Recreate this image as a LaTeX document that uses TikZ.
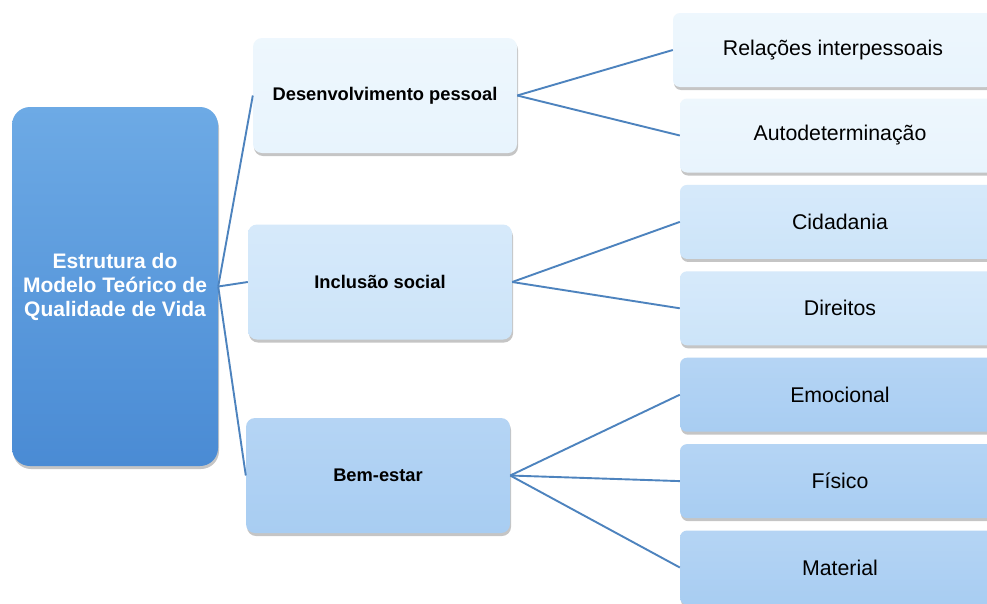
\documentclass[tikz,border=0pt]{standalone}
\usepackage{fontspec}
\setmainfont{Liberation Sans}
\usepackage{xcolor}
\usetikzlibrary{positioning, shadows}

\definecolor{rootTop}{HTML}{6DAAE5}
\definecolor{rootBot}{HTML}{4A8BD4}
\definecolor{paleBlue}{HTML}{E8F4FD}
\definecolor{midBlue}{HTML}{CCE4F9}
\definecolor{deepBlue}{HTML}{A8CDF2}
\definecolor{linkBlue}{HTML}{4D83BE}

\begin{document}
\begin{tikzpicture}[
        x=1pt, y=-1pt,
        node distance=12pt,
        box/.style      ={rounded corners=9pt, align=center, inner sep=2pt,
                          drop shadow={shadow xshift=1pt, shadow yshift=-3pt, opacity=0.45}},
        root/.style     ={box, rounded corners=18pt, minimum width=206pt, minimum height=359pt,
                          top color=rootTop, bottom color=rootBot, text=white,
                          font=\fontsize{21}{24}\selectfont\bfseries},
        mid/.style      ={box, minimum width=264pt, minimum height=115pt,
                          font=\fontsize{18.3}{22}\selectfont\bfseries},
        leaf/.style     ={box, rounded corners=7pt, minimum width=320pt, minimum height=74pt,
                          font=\fontsize{21.3}{25}\selectfont},
        pale/.style     ={top color=paleBlue!75!white, bottom color=paleBlue},
        medium/.style   ={top color=midBlue!80!white, bottom color=midBlue},
        deep/.style     ={top color=deepBlue!85!white, bottom color=deepBlue},
        link/.style     ={draw=linkBlue, line width=1.9pt}
    ]
      \clip (0,0) rectangle (987,603);
      \fill[white] (0,0) rectangle (987,603);

      % ===== ROOT =====
      \node[root] (qv) at (115,286.5) {Estrutura do\\Modelo Teórico de\\Qualidade de Vida};

      % ===== DIMENSIONS =====
      \node[mid, pale]   (dev) at (385,95.5)  {Desenvolvimento pessoal};
      \node[mid, medium] (inc) at (380,282)   {Inclusão social};
      \node[mid, deep]   (bem) at (378,475.5) {Bem-estar};

      % ===== INDICATORS =====
      \node[leaf, pale]                 (rel) at (833,50) {Relações interpessoais};
      \node[leaf, pale]                 (aut) at (840,135.5) {Autodeterminação};
      \node[leaf, medium, below=of aut] (cid) {Cidadania};
      \node[leaf, medium, below=of cid] (dir) {Direitos};
      \node[leaf, deep,   below=of dir] (emo) {Emocional};
      \node[leaf, deep,   below=of emo] (fis) {Físico};
      \node[leaf, deep,   below=of fis] (mat) {Material};

      % root to dimensions
      \draw[link] (qv.east) -- (dev.west);
      \draw[link] (qv.east) -- (inc.west);
      \draw[link] (qv.east) -- (bem.west);
      % dimensions to indicators
      \draw[link] (dev.east) -- (rel.west);
      \draw[link] (dev.east) -- (aut.west);
      \draw[link] (inc.east) -- (cid.west);
      \draw[link] (inc.east) -- (dir.west);
      \foreach \leafname in {emo, fis, mat}
        \draw[link] (bem.east) -- (\leafname.west);
    \end{tikzpicture}
\end{document}
